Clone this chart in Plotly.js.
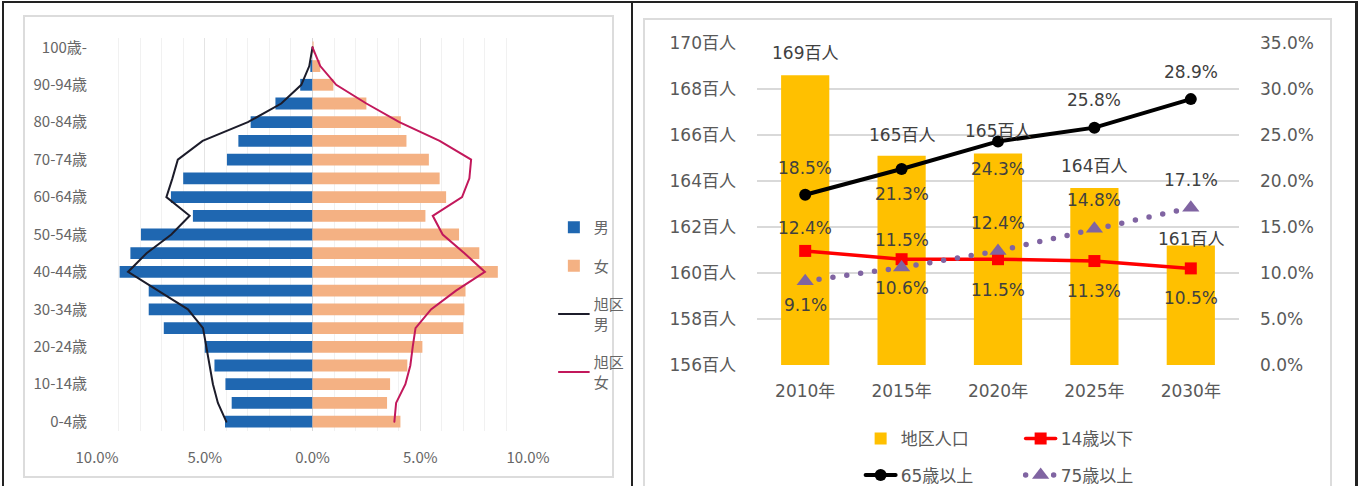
<!DOCTYPE html>
<html><head><meta charset="utf-8">
<script src="https://cdn.plot.ly/plotly-3.0.1.min.js"></script>
<style>
html,body{margin:0;padding:0;background:#fff;}
#wrap{position:relative;width:1363px;height:486px;overflow:hidden;background:#fff;}
.ln{position:absolute;background:#222;}
.box{position:absolute;border:2px solid #dcdcdc;box-sizing:border-box;}
#left{position:absolute;left:0;top:0;width:630px;height:486px;}
#right{position:absolute;left:631px;top:0;width:732px;height:486px;}
.js-line{stroke-linecap:round;}
</style></head>
<body><div id="wrap">
<div class="box" style="left:23px;top:15px;width:591px;height:463px;"></div>
<div class="box" style="left:643px;top:18px;width:689px;height:480px;"></div>
<div id="left"></div>
<div id="right"></div>
<div class="ln" style="left:2px;top:1px;width:1356px;height:2px;"></div>
<div class="ln" style="left:2px;top:1px;width:2px;height:485px;"></div>
<div class="ln" style="left:631px;top:1px;width:2px;height:485px;"></div>
<div class="ln" style="left:1355px;top:1px;width:3px;height:485px;"></div>
</div>
<script>
// ---------- Left chart data (percent) ----------
const ageCats = ['0-4歳','5-9歳','10-14歳','15-19歳','20-24歳','25-29歳','30-34歳','35-39歳','40-44歳','45-49歳','50-54歳','55-59歳','60-64歳','65-69歳','70-74歳','75-79歳','80-84歳','85-89歳','90-94歳','95-99歳','100歳-'];
const maleBars   = [4.06,3.75,4.04,4.55,5.0,6.9,7.6,7.6,8.95,8.45,7.96,5.55,6.57,6.0,3.97,3.44,2.87,1.72,0.57,0.1,0.0];
const femaleBars = [4.08,3.46,3.6,4.4,5.1,7.0,7.05,7.1,8.6,7.74,6.8,5.24,6.2,5.9,5.4,4.36,4.1,2.5,0.97,0.36,0.05];
const asahiMale   = [4.0,4.39,4.62,4.77,4.93,5.08,5.78,7.17,8.56,7.7,6.55,5.7,6.78,6.5,6.25,5.1,3.0,1.45,0.52,0.15,0.0];
const asahiFemale = [3.8,3.88,4.31,4.54,4.65,4.78,5.5,6.66,8.0,7.05,6.04,5.58,6.94,7.28,7.36,5.9,4.03,2.5,1.1,0.36,0.0];
const pyrTickVals = [-10,-5,0,5,10];
const pyrTickText = ['10.0%','5.0%','0.0%','5.0%','10.0%'];

// ---------- Right chart data ----------
const years = ['2010年','2015年','2020年','2025年','2030年'];
const population = [168.6,165.1,165.2,163.7,161.2];   // 百人
const under14 = [12.4,11.5,11.5,11.3,10.5];
const over65  = [18.5,21.3,24.3,25.8,28.9];
const over75  = [9.1,10.6,12.4,14.8,17.1];

// label offsets (px), styles kept separate from data
const popShift = [22,21,22,22,6];
const shift14 = [23,19,-31,-30,-30];
const shift65 = [27,-25,-28,28,27];
const shift75 = [-24,-21,28,29,28];

const gray = '#595959';
const jp = 'Noto Sans CJK JP, Noto Sans, sans-serif';
const dj = 'DejaVu Sans, Noto Sans CJK JP, sans-serif';

// ---------- Left chart ----------
const leftTraces = [
  {type:'bar', orientation:'h', name:'男', y:ageCats, x:maleBars.map(v=>-v),
   marker:{color:'#1f67b1'}, legendgroup:'a', hoverinfo:'skip'},
  {type:'bar', orientation:'h', name:'女', y:ageCats, x:femaleBars,
   marker:{color:'#f4b183'}, legendgroup:'b', hoverinfo:'skip'},
  {type:'scatter', mode:'lines', name:'旭区<br>男', y:ageCats, x:asahiMale.map(v=>-v),
   line:{color:'#1c1c2a', width:2}, legendgroup:'c', hoverinfo:'skip'},
  {type:'scatter', mode:'lines', name:'旭区<br>女', y:ageCats, x:asahiFemale,
   line:{color:'#c2185b', width:2}, legendgroup:'d', hoverinfo:'skip'}
];
const leftLayout = {
  width:630, height:486,
  margin:{l:97, r:102, t:38, b:55, autoexpand:false},
  paper_bgcolor:'rgba(0,0,0,0)', plot_bgcolor:'rgba(0,0,0,0)',
  barmode:'relative', bargap:0.37,
  font:{family:jp, size:15, color:'#666'},
  xaxis:{range:[-10,10], tickvals:pyrTickVals, ticktext:pyrTickText,
    showgrid:true, gridcolor:'#e4e4e4', gridwidth:1,
    minor:{dtick:1, tick0:0, showgrid:true, gridcolor:'#f1f1f1', gridwidth:1},
    zeroline:true, zerolinecolor:'#d9d9d9', zerolinewidth:1,
    showline:false, ticks:'', ticklabelstandoff:16, fixedrange:true, automargin:false},
  yaxis:{type:'category', categoryorder:'array', categoryarray:ageCats, range:[-0.5,20.5],
    tickvals:ageCats.filter((c,i)=>i%2===0), showgrid:false, zeroline:false,
    showline:false, ticks:'', ticklabelstandoff:9, fixedrange:true, automargin:false},
  legend:{x:1.06, y:0.56, xanchor:'left', yanchor:'top', tracegroupgap:16,
    font:{family:jp, size:15, color:'#666'}, itemwidth:30, bgcolor:'rgba(0,0,0,0)'},
  showlegend:true
};
Plotly.newPlot('left', leftTraces, leftLayout, {staticPlot:true, displayModeBar:false});

// ---------- Right chart ----------
const rightTraces = [
  {type:'bar', name:'地区人口', x:years, y:population, marker:{color:'#ffc000'},
   legend:'legend', hoverinfo:'skip'},
  {type:'scatter', mode:'lines+markers', name:'14歳以下', x:years, y:under14, yaxis:'y2',
   line:{color:'#ff0000', width:3.5}, marker:{symbol:'square', size:12, color:'#ff0000'},
   legend:'legend', hoverinfo:'skip'},
  {type:'scatter', mode:'lines+markers', name:'65歳以上', x:years, y:over65, yaxis:'y2',
   line:{color:'#000000', width:4}, marker:{symbol:'circle', size:12, color:'#000000'},
   legend:'legend2', hoverinfo:'skip'},
  {type:'scatter', mode:'lines+markers', name:'75歳以上', x:years, y:over75, yaxis:'y2',
   line:{color:'#8064a2', width:5.5, dash:'0px,14px'}, marker:{symbol:'triangle-up', size:15, color:'#8064a2'},
   legend:'legend2', hoverinfo:'skip'}
];
const ann = [];
const lblFont = {family:dj, size:17, color:'#404040'};
years.forEach((yr,i)=>{
  ann.push({x:yr, y:population[i], xref:'x', yref:'y', text:Math.round(population[i])+'百人',
    showarrow:false, yshift:popShift[i], font:lblFont});
  ann.push({x:yr, y:under14[i], xref:'x', yref:'y2', text:under14[i].toFixed(1)+'%',
    showarrow:false, yshift:shift14[i], font:lblFont});
  ann.push({x:yr, y:over65[i], xref:'x', yref:'y2', text:over65[i].toFixed(1)+'%',
    showarrow:false, yshift:shift65[i], font:lblFont});
  ann.push({x:yr, y:over75[i], xref:'x', yref:'y2', text:over75[i].toFixed(1)+'%',
    showarrow:false, yshift:shift75[i], font:lblFont});
});
const legCommon = {orientation:'h', xanchor:'left', yanchor:'top', entrywidth:115,
  font:{family:dj, size:17, color:gray}, bgcolor:'rgba(0,0,0,0)', traceorder:'normal'};
const rightLayout = {
  width:732, height:486,
  margin:{l:126, r:124, t:43, b:121, autoexpand:false},
  paper_bgcolor:'rgba(0,0,0,0)', plot_bgcolor:'rgba(0,0,0,0)',
  bargap:0.5,
  font:{family:dj, size:17, color:gray},
  xaxis:{type:'category', showgrid:false, zeroline:false, showline:false, ticks:'',
    ticklabelstandoff:14, fixedrange:true, automargin:false},
  yaxis:{range:[156,170], dtick:2, tick0:156, ticksuffix:'百人', showgrid:true,
    gridcolor:'#d9d9d9', gridwidth:2, zeroline:false, showline:false, ticks:'',
    ticklabelstandoff:20, fixedrange:true, automargin:false},
  yaxis2:{range:[0,35], dtick:5, tick0:0, tickformat:'.1f', ticksuffix:'%', overlaying:'y',
    side:'right', showgrid:false, zeroline:false, showline:false, ticks:'',
    ticklabelstandoff:20, fixedrange:true, automargin:false},
  annotations:ann,
  legend:Object.assign({x:0.215, y:-0.174}, legCommon),
  legend2:Object.assign({x:0.215, y:-0.287}, legCommon),
  showlegend:true
};
Plotly.newPlot('right', rightTraces, rightLayout, {staticPlot:true, displayModeBar:false});
</script>
</body></html>
